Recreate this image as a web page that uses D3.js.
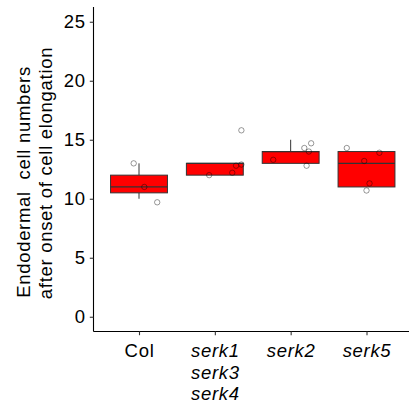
<!DOCTYPE html>
<html>
<head>
    <script src="https://d3js.org/d3.v7.min.js"></script>
    <style>
        body { margin: 0; background: #fff; }
        text { font-family: "Liberation Sans", Arial, sans-serif; }
    </style>
</head>
<body>
    <div id="chart"></div>
    <script>
        // Genotypes and box summaries
        var genotypes = ["Col", "serk1\nserk3\nserk4", "serk2", "serk5"];
        var italicLabel = [false, true, true, true];
        var whiskerLow = [10, 12, 13, 11];
        var q1 = [10.5, 12, 13, 11];
        var median = [11, 13, 14, 13];
        var q3 = [12, 13, 14, 14];
        var whiskerHigh = [13, 13, 15, 14];

        // Jittered observations (group index, x offset in category units, value)
        var pointGroup = [0, 0, 0, 1, 1, 1, 1, 1, 2, 2, 2, 2, 2, 3, 3, 3, 3, 3];
        var pointJitter = [-0.07, 0.07, 0.24, -0.075, 0.23, 0.28, 0.35, 0.35,
                           -0.23, 0.18, 0.27, 0.24, 0.21, -0.26, 0.17, -0.03, 0.04, 0];
        var pointValue = [13, 11, 9.7, 12.0, 12.2, 12.8, 12.9, 15.8,
                          13.3, 14.3, 14.7, 14.0, 12.8, 14.3, 13.9, 13.2, 11.3, 10.7];

        var yTicks = [0, 5, 10, 15, 20, 25];

        var W = 409, H = 410;
        var panelLeft = 93.5, panelRight = 412, panelTop = 7, panelBottom = 331.5;
        var fontSize = 18.5, letterSp = "0.7px";

        var svg = d3.select("#chart").append("svg")
            .attr("width", W)
            .attr("height", H);

        var x = d3.scalePoint()
            .domain(genotypes)
            .range([panelLeft, panelRight])
            .padding(0.6);
        var step = x.step();

        var y = d3.scaleLinear()
            .domain([-1.25, 26.25])
            .range([panelBottom, panelTop]);

        var boxW = step * 0.75;

        // Boxes
        var boxes = svg.append("g").selectAll("g")
            .data(genotypes)
            .join("g");

        boxes.append("line")
            .attr("x1", function(d) { return x(d); })
            .attr("x2", function(d) { return x(d); })
            .attr("y1", function(d, i) { return y(whiskerHigh[i]); })
            .attr("y2", function(d, i) { return y(q3[i]); })
            .attr("stroke", "#333")
            .attr("stroke-width", 1);

        boxes.append("line")
            .attr("x1", function(d) { return x(d); })
            .attr("x2", function(d) { return x(d); })
            .attr("y1", function(d, i) { return y(q1[i]); })
            .attr("y2", function(d, i) { return y(whiskerLow[i]); })
            .attr("stroke", "#333")
            .attr("stroke-width", 1);

        boxes.append("rect")
            .attr("x", function(d) { return x(d) - boxW / 2; })
            .attr("width", boxW)
            .attr("y", function(d, i) { return y(q3[i]); })
            .attr("height", function(d, i) { return y(q1[i]) - y(q3[i]); })
            .attr("fill", "#ff0000")
            .attr("stroke", "#333")
            .attr("stroke-width", 1);

        boxes.append("line")
            .attr("x1", function(d) { return x(d) - boxW / 2; })
            .attr("x2", function(d) { return x(d) + boxW / 2; })
            .attr("y1", function(d, i) { return y(median[i]); })
            .attr("y2", function(d, i) { return y(median[i]); })
            .attr("stroke", "#333")
            .attr("stroke-width", 1.2);

        // Points
        svg.append("g").selectAll("circle")
            .data(pointValue)
            .join("circle")
            .attr("cx", function(d, i) { return x(genotypes[pointGroup[i]]) + pointJitter[i] * step; })
            .attr("cy", function(d) { return y(d); })
            .attr("r", 2.7)
            .attr("fill", "none")
            .attr("stroke", "#000")
            .attr("stroke-opacity", 0.4)
            .attr("stroke-width", 1);

        // Axes
        var yAxis = svg.append("g")
            .attr("transform", "translate(" + panelLeft + ",0)")
            .call(d3.axisLeft(y).tickValues(yTicks).tickSize(3.7).tickPadding(4));
        yAxis.select(".domain").attr("d", "M0," + panelTop + "V" + panelBottom).attr("stroke", "#000").attr("stroke-width", 1.1);
        yAxis.selectAll(".tick line").attr("stroke", "#333").attr("stroke-width", 1.1);
        yAxis.selectAll("text").attr("font-size", fontSize).attr("fill", "#000")
            .style("letter-spacing", letterSp)
            .style("font-family", "'Liberation Sans', Arial, sans-serif");

        var xAxis = svg.append("g")
            .attr("transform", "translate(0," + panelBottom + ")")
            .call(d3.axisBottom(x).tickSize(3.7).tickPadding(9));
        xAxis.select(".domain").attr("d", "M" + panelLeft + ",0H" + panelRight).attr("stroke", "#000").attr("stroke-width", 1.1);
        xAxis.selectAll(".tick line").attr("stroke", "#333").attr("stroke-width", 1.1);
        xAxis.selectAll("text")
            .attr("font-size", fontSize)
            .attr("fill", "#000")
            .style("letter-spacing", letterSp)
            .style("font-family", "'Liberation Sans', Arial, sans-serif")
            .style("font-style", function(d, i) { return italicLabel[i] ? "italic" : "normal"; })
            .each(function(d) {
                var t = d3.select(this);
                var lines = d.split("\n");
                t.text(null);
                lines.forEach(function(s, k) {
                    t.append("tspan")
                        .attr("x", 0)
                        .attr("dy", k === 0 ? "0.71em" : "1.15em")
                        .text(s);
                });
            })
            .attr("dy", null);

        // Y axis title
        var title = svg.append("text")
            .attr("transform", "rotate(-90)")
            .attr("font-size", fontSize)
            .attr("fill", "#000")
            .style("letter-spacing", letterSp)
            .attr("text-anchor", "middle");
        title.append("tspan")
            .attr("x", -182).attr("y", 30)
            .text("Endodermal\u00a0 cell numbers");
        title.append("tspan")
            .attr("x", -173).attr("y", 51.7)
            .text("after onset of cell elongation");
    </script>
</body>
</html>
